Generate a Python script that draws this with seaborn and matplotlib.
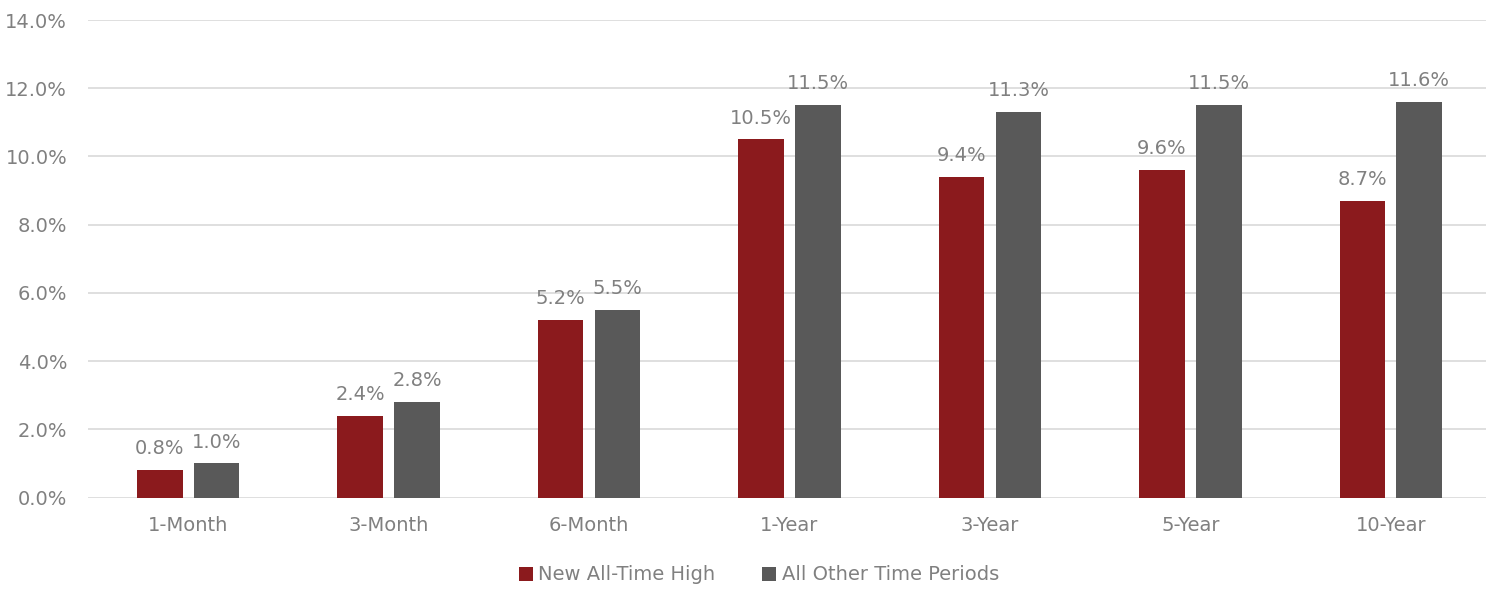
import matplotlib
matplotlib.use("Agg")
import matplotlib.pyplot as plt
import seaborn as sns
import pandas as pd
from matplotlib.ticker import FuncFormatter, MultipleLocator
from matplotlib.patches import Patch

periods = ["1-Month", "3-Month", "6-Month", "1-Year", "3-Year", "5-Year", "10-Year"]
new_high = [0.8, 2.4, 5.2, 10.5, 9.4, 9.6, 8.7]
other_periods = [1.0, 2.8, 5.5, 11.5, 11.3, 11.5, 11.6]
series_names = ["New All-Time High", "All Other Time Periods"]
colors = ["#8B1A1D", "#595959"]

df = pd.DataFrame({
    "period": periods * 2,
    "series": [series_names[0]] * len(periods) + [series_names[1]] * len(periods),
    "value": new_high + other_periods,
})

sns.set_theme(style="white")
plt.rcParams["font.family"] = ["DejaVu Sans"]
text_color = "#808080"

W, H = 1486, 589
fig = plt.figure(figsize=(W / 100, H / 100), dpi=100)
ax = fig.add_axes([88 / W, 1 - 497.5 / H, 1403 / W, (497.5 - 20) / H])

sns.barplot(data=df, x="period", y="value", hue="series", order=periods,
            hue_order=series_names, palette=colors, width=0.568, gap=0.2,
            saturation=1, ax=ax, legend=False, errorbar=None, linewidth=0)

ax.set_ylim(0, 14)
ax.yaxis.set_major_locator(MultipleLocator(2))
ax.yaxis.set_major_formatter(FuncFormatter(lambda v, _: f"{v:.1f}%"))
ax.grid(axis="y", color="#d9d9d9", linewidth=1.2)
ax.set_axisbelow(True)
for s in ax.spines.values():
    s.set_visible(False)
ax.tick_params(axis="both", length=0, labelsize=14, labelcolor=text_color)
ax.tick_params(axis="y", pad=15)
ax.tick_params(axis="x", pad=13)
ax.set_xlabel("")
ax.set_ylabel("")

for cont in ax.containers:
    ax.bar_label(cont, labels=[f"{v:.1f}%" for v in cont.datavalues],
                 padding=8.5, fontsize=14, color=text_color)

handles = [Patch(facecolor=c, edgecolor="none") for c in colors]
fig.legend(handles, series_names, loc="center", bbox_to_anchor=(759 / W, 1 - 575 / H),
           ncol=2, frameon=False, fontsize=14, labelcolor=text_color,
           handlelength=0.7, handleheight=0.7, handletextpad=0.3, columnspacing=2.4)

fig.savefig("out.png", dpi=100)
